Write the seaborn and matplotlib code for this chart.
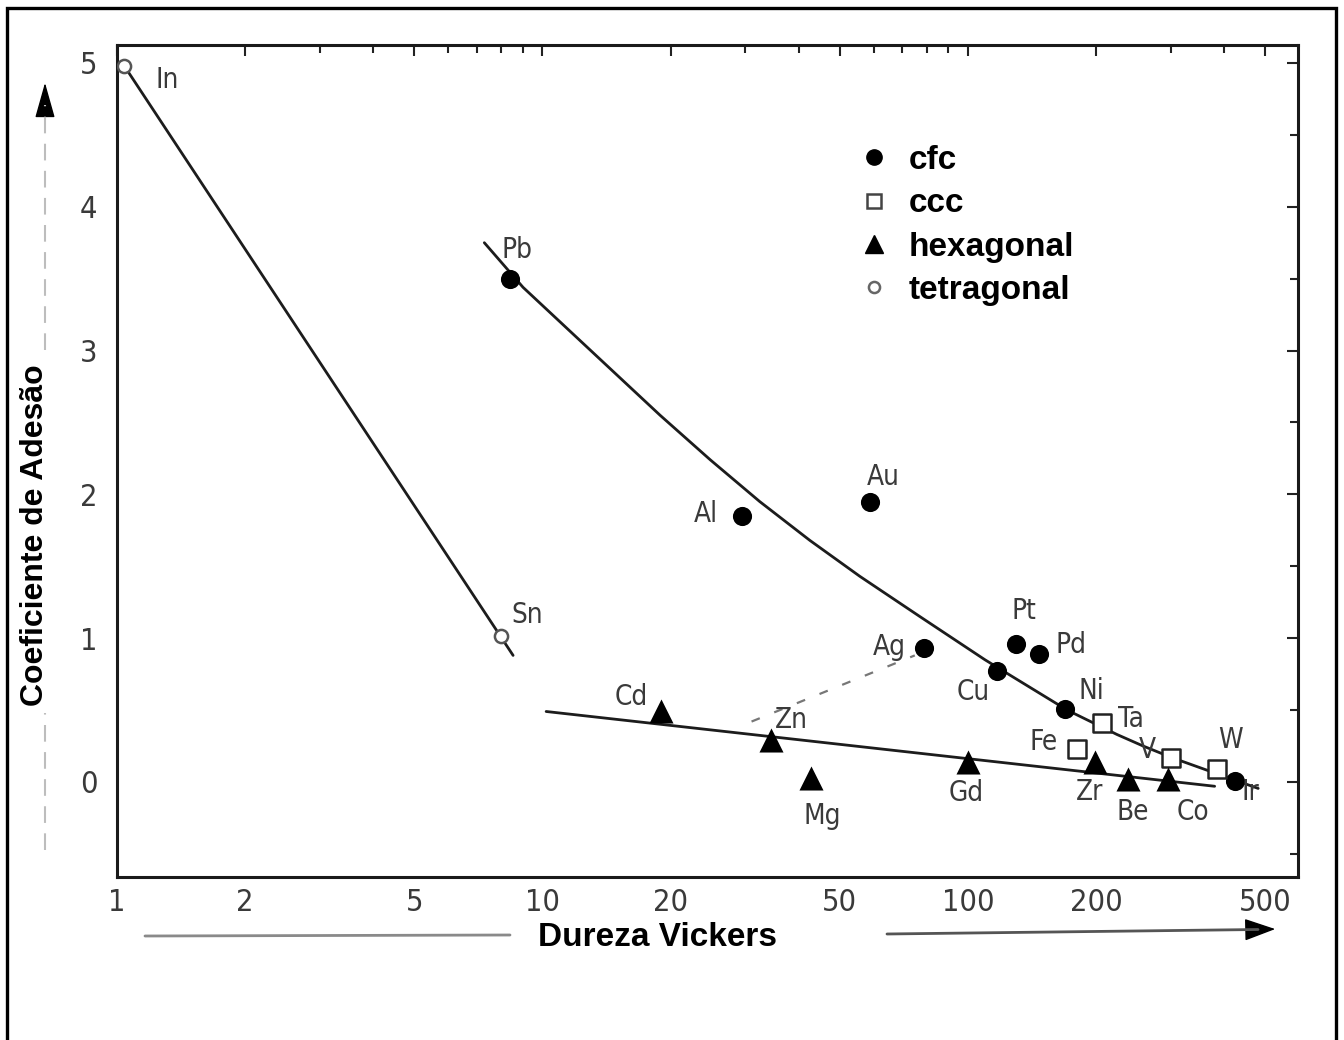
import matplotlib
matplotlib.use("Agg")
import matplotlib.pyplot as plt
import seaborn as sns
import pandas as pd
import numpy as np
from matplotlib import font_manager
from matplotlib.font_manager import FontProperties
from matplotlib.lines import Line2D
from matplotlib.patches import FancyArrowPatch, Rectangle
from matplotlib.ticker import FixedLocator, NullFormatter

# ---------------- data ----------------
cfc_names = ['Pb', 'Al', 'Au', 'Ag', 'Cu', 'Pt', 'Pd', 'Ni', 'Ir']
cfc_hv = [8.4, 29.4, 59, 79, 117, 130, 147, 169, 424]
cfc_coef = [3.50, 1.85, 1.95, 0.93, 0.77, 0.96, 0.89, 0.51, 0.01]

ccc_names = ['Fe', 'Ta', 'V', 'W']
ccc_hv = [180, 206, 300, 385]
ccc_coef = [0.23, 0.41, 0.17, 0.09]

hex_names = ['Cd', 'Zn', 'Mg', 'Gd', 'Zr', 'Be', 'Co']
hex_hv = [19, 34.4, 42.8, 100, 199, 238, 295]
hex_coef = [0.49, 0.29, 0.03, 0.14, 0.14, 0.02, 0.02]

tet_names = ['In', 'Sn']
tet_hv = [1.04, 8.0]
tet_coef = [4.98, 1.015]

# trend curves
tet_line_hv = [1.04, 8.53]
tet_line_coef = [4.98, 0.88]
cfc_line_hv = [7.3, 9.0, 12.25, 18.9, 24.8, 32.4, 42.5, 55.7, 77.1, 109.6, 127.6, 171, 224, 258, 301, 370, 481]
cfc_line_coef = [3.75, 3.44, 3.07, 2.55, 2.24, 1.95, 1.68, 1.43, 1.15, 0.85, 0.73, 0.50, 0.33, 0.25, 0.17, 0.075, -0.045]
hex_line_hv = [10.2, 380]
hex_line_coef = [0.49, -0.03]
dash_line_hv = [31, 75]
dash_line_coef = [0.42, 0.88]

x_major = [1, 2, 5, 10, 20, 50, 100, 200, 500]
x_minor = [3, 4, 6, 7, 8, 9, 30, 40, 60, 70, 80, 90, 300, 400]
y_major = [0, 1, 2, 3, 4, 5]
y_minor = [-0.5, 0.5, 1.5, 2.5, 3.5, 4.5]

legend_labels = ['cfc', 'ccc', 'hexagonal', 'tetragonal']

# label offsets in pixels (dx, dy up)
label_offsets = {
    'In': (43, -14), 'Sn': (26, 21), 'Pb': (7, 29), 'Al': (-36, 2), 'Au': (13, 25),
    'Ag': (-35, 1), 'Pt': (7, 33), 'Pd': (32, 9), 'Cu': (-24, -21), 'Ni': (26, 18),
    'Ta': (29, 4), 'Fe': (-33, 7), 'V': (-24, 8), 'W': (13, 29), 'Ir': (15, -11),
    'Cd': (-30, 14), 'Zn': (21, 20), 'Mg': (11, -38), 'Gd': (-2, -31), 'Zr': (-6, -30),
    'Be': (5, -33), 'Co': (25, -33),
}

# ---------------- fonts ----------------
sns.set_theme(style="white")
plt.rcParams['font.family'] = ['Liberation Sans', 'DejaVu Sans']
plt.rcParams['text.color'] = 'black'


def find_condensed():
    best = None
    best_score = 99
    for f in font_manager.fontManager.ttflist:
        name = f.name
        st = str(f.stretch).lower()
        fname = f.fname.lower()
        is_narrow = ('narrow' in name.lower() or 'condensed' in name.lower() or 'condensed' in st
                     or 'condensed' in fname or 'narrow' in fname)
        if not is_narrow:
            continue
        if 'extra' in fname or 'ultra' in fname or 'semi' in fname:
            continue
        w = f.weight if isinstance(f.weight, int) else 400
        if f.style != 'normal' or w not in (400, 'normal', 'regular', 'book'):
            if not (isinstance(f.weight, str) and f.weight in ('normal', 'regular', 'book')):
                continue
        order = ['liberation', 'dejavu', 'noto', 'roboto', 'open']
        score = next((i for i, o in enumerate(order) if o in name.lower()), 10)
        if score < best_score:
            best_score, best = score, f.fname
    return best


cond_path = find_condensed()
if cond_path:
    label_fp = FontProperties(fname=cond_path, size=20)
    tick_fp = FontProperties(fname=cond_path, size=22)
else:
    label_fp = FontProperties(family='Liberation Sans', size=18)
    tick_fp = FontProperties(family='Liberation Sans', size=19)

W, H = 1344, 1040
fig = plt.figure(figsize=(W / 100, H / 100), dpi=100)
fig.patch.set_facecolor('white')
ax = fig.add_axes([117 / W, 1 - 877 / H, (1298 - 117) / W, (877 - 45) / H])
ax.set_facecolor('white')

df_cfc = pd.DataFrame({'el': cfc_names, 'hv': cfc_hv, 'c': cfc_coef})
df_ccc = pd.DataFrame({'el': ccc_names, 'hv': ccc_hv, 'c': ccc_coef})
df_hex = pd.DataFrame({'el': hex_names, 'hv': hex_hv, 'c': hex_coef})
df_tet = pd.DataFrame({'el': tet_names, 'hv': tet_hv, 'c': tet_coef})

line_col = '#1c1c1c'
for hv, cc in [(tet_line_hv, tet_line_coef), (cfc_line_hv, cfc_line_coef), (hex_line_hv, hex_line_coef)]:
    sns.lineplot(x=hv, y=cc, ax=ax, color=line_col, lw=2.0, sort=False, estimator=None, zorder=2)
sns.lineplot(x=dash_line_hv, y=dash_line_coef, ax=ax, color='#777777', lw=1.6,
             sort=False, estimator=None, linestyle=(0, (4, 7)), zorder=2)

sns.scatterplot(data=df_cfc, x='hv', y='c', ax=ax, marker='o', s=190, color='black',
                edgecolor='black', linewidth=0, zorder=4)
sns.scatterplot(data=df_ccc, x='hv', y='c', ax=ax, marker='s', s=170, facecolor='white',
                edgecolor='#222222', linewidth=1.8, zorder=4)
sns.scatterplot(data=df_hex, x='hv', y='c', ax=ax, marker='^', s=300, color='black',
                edgecolor='black', linewidth=0, zorder=4)
sns.scatterplot(data=df_tet, x='hv', y='c', ax=ax, marker='o', s=90, facecolor='white',
                edgecolor='#555555', linewidth=1.8, zorder=4)

ax.set_xscale('log')
ax.set_xlim(1, 596.6)
ax.set_ylim(-0.661, 5.125)

for d in (df_cfc, df_ccc, df_hex, df_tet):
    for el, x, y in zip(d['el'], d['hv'], d['c']):
        dx, dy = label_offsets[el]
        ax.annotate(el, (x, y), xytext=(dx, dy), textcoords='offset pixels',
                    ha='center', va='center', fontproperties=label_fp, color='#3a3a3a', zorder=5)

# ticks
ax.xaxis.set_major_locator(FixedLocator(x_major))
ax.xaxis.set_minor_locator(FixedLocator(x_minor))
ax.xaxis.set_minor_formatter(NullFormatter())
ax.set_xticklabels([str(v) for v in x_major])
ax.yaxis.set_major_locator(FixedLocator(y_major))
ax.yaxis.set_minor_locator(FixedLocator(y_minor))
ax.set_yticklabels([str(v) for v in y_major])
ax.tick_params(which='both', direction='in', top=True, right=True, color='#222222', width=1.5)
ax.tick_params(which='major', length=8)
ax.tick_params(which='minor', length=6)
ax.tick_params(axis='x', which='major', pad=8, labelcolor='#3a3a3a')
ax.tick_params(axis='y', which='major', pad=14, labelcolor='#3a3a3a')
for lab in ax.get_xticklabels() + ax.get_yticklabels():
    lab.set_fontproperties(tick_fp)
for sp in ax.spines.values():
    sp.set_color('#1a1a1a')
    sp.set_linewidth(2.2)
ax.set_xlabel('')
ax.set_ylabel('')

# legend
handles = [
    Line2D([], [], ls='none', marker='o', ms=11, mfc='black', mec='black'),
    Line2D([], [], ls='none', marker='s', ms=10, mfc='white', mec='#444444', mew=1.8),
    Line2D([], [], ls='none', marker='^', ms=13, mfc='black', mec='black'),
    Line2D([], [], ls='none', marker='o', ms=8, mfc='white', mec='#666666', mew=1.8),
]
leg = ax.legend(handles, legend_labels, loc='upper left', bbox_to_anchor=(857 / W, 1 - 145 / H),
                bbox_transform=fig.transFigure, frameon=False, borderpad=0, borderaxespad=0,
                handlelength=1.0, handletextpad=0.55, labelspacing=0.37,
                prop={'family': ['Liberation Sans', 'DejaVu Sans'], 'weight': 'bold', 'size': 24})
for t in leg.get_texts():
    t.set_color('black')

# axis titles
fig.text(657 / W, 1 - 938 / H, 'Dureza Vickers', ha='center', va='center', fontsize=24,
         fontweight='bold', color='black')
fig.text(35 / W, 1 - 535 / H, 'Coeficiente de Adesão', ha='center', va='center', fontsize=23,
         fontweight='bold', rotation=90, color='black')

# decorative arrows
fig.add_artist(Line2D([45 / W, 45 / W], [1 - 350 / H, 1 - 105 / H], transform=fig.transFigure,
                      color='#bdbdbd', lw=1.5, ls=(0, (8, 5))))
fig.add_artist(Line2D([45 / W, 45 / W], [1 - 850 / H, 1 - 713 / H], transform=fig.transFigure,
                      color='#bdbdbd', lw=1.5, ls=(0, (8, 5))))
fig.add_artist(FancyArrowPatch((45 / W, 1 - 108 / H), (45 / W, 1 - 80 / H), transform=fig.transFigure,
                               arrowstyle='-|>,head_length=1.6,head_width=0.45', mutation_scale=14,
                               color='black', lw=1))
fig.add_artist(Line2D([145 / W, 510 / W], [1 - 936 / H, 1 - 935 / H], transform=fig.transFigure,
                      color='#8a8a8a', lw=2.0))
fig.add_artist(Line2D([887 / W, 1258 / W], [1 - 934 / H, 1 - 929.5 / H], transform=fig.transFigure,
                      color='#555555', lw=2.0))
fig.add_artist(FancyArrowPatch((1250 / W, 1 - 929.6 / H), (1278 / W, 1 - 929 / H), transform=fig.transFigure,
                               arrowstyle='-|>,head_length=1.4,head_width=0.5', mutation_scale=14,
                               color='black', lw=1))

# outer frame
fig.add_artist(Rectangle((7 / W, -10 / H), (1336 - 7) / W, (1032 + 10) / H, transform=fig.transFigure,
                         fill=False, edgecolor='black', lw=2.4))

fig.savefig('out.png', dpi=100)
